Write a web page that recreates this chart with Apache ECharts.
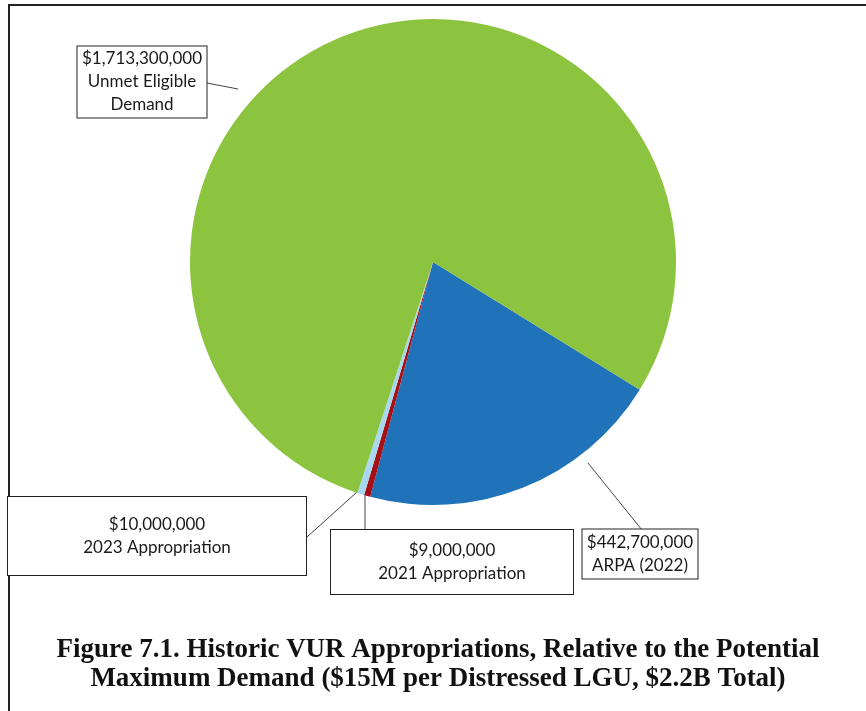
<!DOCTYPE html>
<html>
<head>
<meta charset="utf-8">
<script src="https://cdn.jsdelivr.net/npm/echarts@6/dist/echarts.min.js"></script>
<style>
  html, body { margin: 0; padding: 0; background: #fff; }
  #chart { width: 866px; height: 711px; }
</style>
</head>
<body>
<div id="chart"></div>
<script>
// VUR appropriations versus potential maximum demand
const categories = ['ARPA (2022)', '2021 Appropriation', '2023 Appropriation', 'Unmet Eligible Demand'];
const amounts = [442700000, 9000000, 10000000, 1713300000];
const sliceColors = ['#2072b9', '#a50f15', '#a8d8ef', '#8cc43f'];

const titleLines = [
  'Figure 7.1. Historic VUR Appropriations, Relative to the Potential',
  'Maximum Demand ($15M per Distressed LGU, $2.2B Total)'
];

// Callout boxes: center, size and leader line (box end -> pie end)
const callouts = [
  { cx: 640, cy: 554, w: 115, h: 49, line: [[642, 530], [588, 463]] },
  { cx: 452, cy: 562, w: 242, h: 64, line: [[365, 530], [365, 494]] },
  { cx: 157, cy: 536, w: 298, h: 78, line: [[307, 537], [357, 492]] },
  { cx: 142, cy: 82, w: 129, h: 71, line: [[207, 83], [238, 89]] }
];

const money = v => '$' + v.toLocaleString('en-US');

const data = categories.map((name, i) => ({
  name,
  value: amounts[i],
  itemStyle: { color: sliceColors[i] },
  label: { width: callouts[i].w, height: callouts[i].h }
}));

const chart = echarts.init(document.getElementById('chart'), null, { renderer: 'canvas' });

chart.setOption({
  animation: false,
  backgroundColor: '#fff',
  title: {
    text: titleLines.join('\n'),
    left: 433,
    top: 631,
    textAlign: 'center',
    textStyle: {
      fontFamily: 'Liberation Serif',
      fontWeight: 'bold',
      fontSize: 27,
      lineHeight: 29,
      color: '#111'
    }
  },
  graphic: [{
    type: 'rect',
    shape: { x: 9, y: 5, width: 900, height: 800 },
    style: { fill: 'none', stroke: '#222', lineWidth: 2 },
    silent: true
  }],
  series: [{
    type: 'pie',
    center: [433, 262],
    radius: 243,
    startAngle: -31.7,
    clockwise: true,
    data,
    itemStyle: { borderWidth: 0 },
    label: {
      show: true,
      formatter: p => {
        const parts = p.name === 'Unmet Eligible Demand'
          ? ['Unmet Eligible', 'Demand'] : [p.name];
        return [money(p.value)].concat(parts).join('\n');
      },
      fontFamily: 'Lato',
      fontSize: 17,
      lineHeight: 23,
      color: '#1a1a1a',
      backgroundColor: '#fff',
      borderColor: '#222',
      borderWidth: 1,
      align: 'center',
      verticalAlign: 'middle'
    },
    labelLine: {
      show: true,
      lineStyle: { color: '#444', width: 1 }
    },
    labelLayout: params => {
      const c = callouts[params.dataIndex];
      return {
        x: c.cx,
        y: c.cy,
        align: 'center',
        verticalAlign: 'middle',
        labelLinePoints: c.line.slice().reverse()
      };
    }
  }]
});
</script>
</body>
</html>
